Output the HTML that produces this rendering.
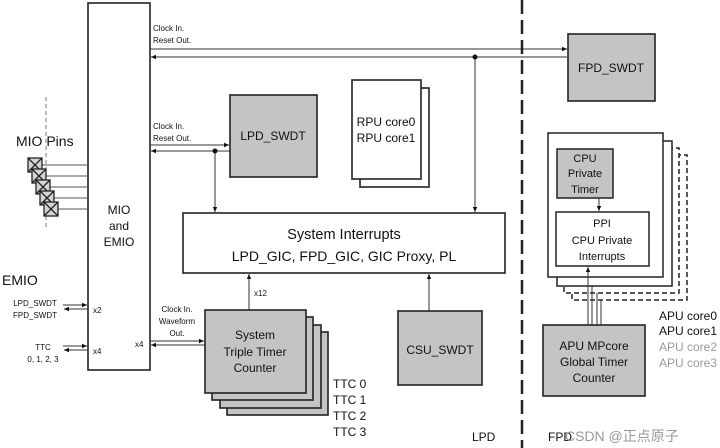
<!DOCTYPE html>
<html><head><meta charset="utf-8"><style>
html,body{margin:0;padding:0;background:#fff}
svg{display:block}
text{font-family:"Liberation Sans","Noto Sans CJK SC",sans-serif;fill:#111}
</style></head><body>
<svg width="720" height="448" viewBox="0 0 720 448" xmlns="http://www.w3.org/2000/svg">
<defs>
<marker id="a" markerWidth="6" markerHeight="6" refX="5" refY="3" orient="auto" markerUnits="userSpaceOnUse"><path d="M0,0.8 L5,3 L0,5.2 z" fill="#111"/></marker>
</defs>
<g stroke="#222" stroke-width="1.6">
<rect x="88" y="3" width="62" height="367" fill="#fff"/>
</g>
<line x1="46" y1="97" x2="46" y2="228" stroke="#777" stroke-dasharray="4,3" stroke-width="1"/>
<g stroke="#555" stroke-width="1">
<line x1="42" y1="165" x2="88" y2="165"/><line x1="46" y1="176" x2="88" y2="176"/>
<line x1="50" y1="187" x2="88" y2="187"/><line x1="54" y1="198" x2="88" y2="198"/>
<line x1="58" y1="209" x2="88" y2="209"/>
</g>
<g stroke="#222" stroke-width="1.3" fill="#d4d4d4">
<g><rect x="28" y="158" width="14" height="14"/><path d="M28,158 L42,172 M42,158 L28,172"/></g>
<g><rect x="32" y="169" width="14" height="14"/><path d="M32,169 L46,183 M46,169 L32,183"/></g>
<g><rect x="36" y="180" width="14" height="14"/><path d="M36,180 L50,194 M50,180 L36,194"/></g>
<g><rect x="40" y="191" width="14" height="14"/><path d="M40,191 L54,205 M54,191 L40,205"/></g>
<g><rect x="44" y="202" width="14" height="14"/><path d="M44,202 L58,216 M58,202 L44,216"/></g>
</g>
<text x="16" y="146" font-size="14">MIO Pins</text>
<text x="119" y="214" font-size="12" text-anchor="middle">MIO</text>
<text x="119" y="230" font-size="12" text-anchor="middle">and</text>
<text x="119" y="246" font-size="12" text-anchor="middle">EMIO</text>
<text x="2" y="285" font-size="14">EMIO</text>
<text x="35" y="306" font-size="8" text-anchor="middle">LPD_SWDT</text>
<text x="35" y="318" font-size="8" text-anchor="middle">FPD_SWDT</text>
<text x="43" y="350" font-size="8" text-anchor="middle">TTC</text>
<text x="43" y="362" font-size="8" text-anchor="middle">0, 1, 2, 3</text>
<text x="93" y="313" font-size="8">x2</text>
<text x="93" y="354" font-size="8">x4</text>
<text x="135" y="347" font-size="8">x4</text>
<g stroke="#333" stroke-width="1">
<line x1="63" y1="305" x2="87" y2="305" marker-end="url(#a)"/>
<line x1="88" y1="309" x2="64" y2="309" marker-end="url(#a)"/>
<line x1="63" y1="346" x2="87" y2="346" marker-end="url(#a)"/>
<line x1="88" y1="350" x2="64" y2="350" marker-end="url(#a)"/>
<line x1="150" y1="49" x2="567" y2="49" marker-end="url(#a)"/>
<line x1="567" y1="57" x2="151" y2="57" marker-end="url(#a)"/>
<line x1="475" y1="57" x2="475" y2="212" marker-end="url(#a)"/>
<line x1="150" y1="145" x2="229" y2="145" marker-end="url(#a)"/>
<line x1="230" y1="151" x2="151" y2="151" marker-end="url(#a)"/>
<line x1="215" y1="151" x2="215" y2="212" marker-end="url(#a)"/>
<line x1="150" y1="341" x2="204" y2="341" marker-end="url(#a)"/>
<line x1="205" y1="345" x2="151" y2="345" marker-end="url(#a)"/>
<line x1="249" y1="310" x2="249" y2="274" marker-end="url(#a)"/>
<line x1="429" y1="311" x2="429" y2="274" marker-end="url(#a)"/>
</g>
<circle cx="475" cy="57" r="2.5" fill="#111"/>
<circle cx="215" cy="151" r="2.5" fill="#111"/>
<text x="153" y="31" font-size="8">Clock In.</text>
<text x="153" y="43" font-size="8">Reset Out.</text>
<text x="153" y="129" font-size="8">Clock In.</text>
<text x="153" y="141" font-size="8">Reset Out.</text>
<text x="177" y="312" font-size="8" text-anchor="middle">Clock In.</text>
<text x="177" y="324" font-size="8" text-anchor="middle">Waveform</text>
<text x="177" y="336" font-size="8" text-anchor="middle">Out.</text>
<text x="254" y="296" font-size="8">x12</text>
<g stroke="#222" stroke-width="1.6">
<rect x="568" y="34" width="87" height="67" fill="#c4c4c4"/>
<rect x="230" y="95" width="87" height="82" fill="#c4c4c4"/>
<rect x="360" y="88" width="69" height="99" fill="#fff"/>
<rect x="352" y="80" width="69" height="99" fill="#fff"/>
<rect x="183" y="213" width="322" height="60" fill="#fff"/>
<rect x="227" y="332" width="101" height="83" fill="#c4c4c4"/>
<rect x="220" y="325" width="101" height="83" fill="#c4c4c4"/>
<rect x="212" y="317" width="101" height="83" fill="#c4c4c4"/>
<rect x="205" y="310" width="101" height="83" fill="#c4c4c4"/>
<rect x="398" y="311" width="84" height="74" fill="#c4c4c4"/>
</g>
<text x="273" y="140" font-size="12" text-anchor="middle">LPD_SWDT</text>
<text x="611" y="72" font-size="12" text-anchor="middle">FPD_SWDT</text>
<text x="386" y="126" font-size="12" text-anchor="middle">RPU core0</text>
<text x="386" y="142" font-size="12" text-anchor="middle">RPU core1</text>
<text x="344" y="239" font-size="14.5" text-anchor="middle">System Interrupts</text>
<text x="344" y="261" font-size="14" text-anchor="middle">LPD_GIC, FPD_GIC, GIC Proxy, PL</text>
<text x="255" y="339" font-size="12" text-anchor="middle">System</text>
<text x="255" y="356" font-size="12" text-anchor="middle">Triple Timer</text>
<text x="255" y="372" font-size="12" text-anchor="middle">Counter</text>
<text x="440" y="354" font-size="12" text-anchor="middle">CSU_SWDT</text>
<text x="333" y="388" font-size="12">TTC 0</text>
<text x="333" y="404" font-size="12">TTC 1</text>
<text x="333" y="420" font-size="12">TTC 2</text>
<text x="333" y="436" font-size="12">TTC 3</text>
<text x="472" y="441" font-size="12">LPD</text>
<text x="548" y="441" font-size="12">FPD</text>
<text x="565" y="441" font-size="14" style="fill:#999">CSDN @正点原子</text>
<line x1="522" y1="0" x2="522" y2="448" stroke="#222" stroke-width="2.5" stroke-dasharray="14,6"/>
<g stroke="#222" stroke-width="1.5" fill="#fff">
<rect x="572" y="155" width="115" height="145" stroke-dasharray="5,3"/>
<rect x="564" y="148" width="115" height="145" stroke-dasharray="5,3"/>
<rect x="557" y="141" width="115" height="145"/>
<rect x="548" y="133" width="115" height="144"/>
<rect x="557" y="149" width="56" height="49" fill="#c4c4c4"/>
<rect x="556" y="212" width="93" height="54"/>
</g>
<g stroke="#333" stroke-width="1">
<line x1="588" y1="325" x2="588" y2="267" marker-end="url(#a)"/>
<line x1="592" y1="325" x2="592" y2="285"/>
<line x1="597" y1="325" x2="597" y2="293"/>
<line x1="601" y1="325" x2="601" y2="300"/>
<line x1="599" y1="198" x2="599" y2="211" marker-end="url(#a)"/>
</g>
<rect x="543" y="325" width="102" height="71" fill="#c4c4c4" stroke="#222" stroke-width="1.6"/>
<text x="585" y="162" font-size="11" text-anchor="middle">CPU</text>
<text x="585" y="177" font-size="11" text-anchor="middle">Private</text>
<text x="585" y="193" font-size="11" text-anchor="middle">Timer</text>
<text x="602" y="227" font-size="11" text-anchor="middle">PPI</text>
<text x="602" y="244" font-size="11" text-anchor="middle">CPU Private</text>
<text x="602" y="260" font-size="11" text-anchor="middle">Interrupts</text>
<text x="594" y="350" font-size="12" text-anchor="middle">APU MPcore</text>
<text x="594" y="366" font-size="12" text-anchor="middle">Global Timer</text>
<text x="594" y="382" font-size="12" text-anchor="middle">Counter</text>
<text x="659" y="320" font-size="12">APU core0</text>
<text x="659" y="335" font-size="12">APU core1</text>
<text x="659" y="351" font-size="12" style="fill:#999">APU core2</text>
<text x="659" y="367" font-size="12" style="fill:#999">APU core3</text>
</svg>
</body></html>
